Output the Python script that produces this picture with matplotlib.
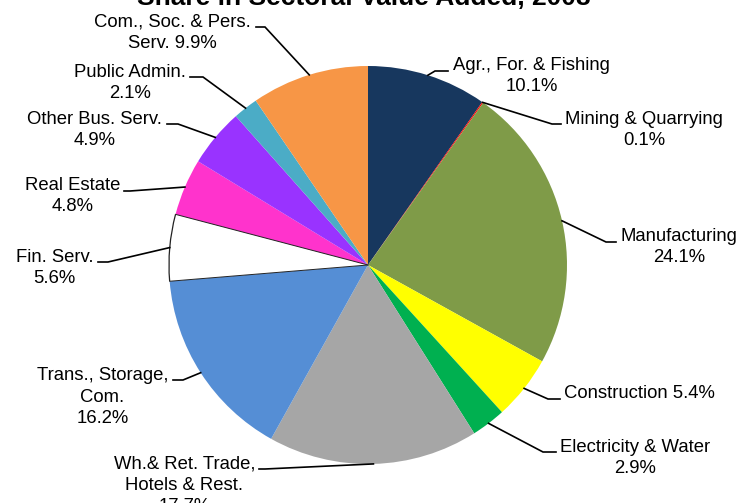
import matplotlib
matplotlib.use('Agg')
from matplotlib import pyplot as plt
from matplotlib.patches import Arc
import numpy as np

plt.rcParams['font.family'] = ['Liberation Sans', 'DejaVu Sans']

sectors = ['Agr., For. & Fishing', 'Mining & Quarrying', 'Manufacturing',
           'Construction', 'Electricity & Water', 'Wh.& Ret. Trade,\nHotels & Rest.',
           'Trans., Storage,\nCom.', 'Fin. Serv.', 'Real Estate', 'Other Bus. Serv.',
           'Public Admin.', 'Com., Soc. & Pers.\nServ.']
shares = [10.1, 0.1, 24.1, 5.4, 2.9, 17.7, 16.2, 5.6, 4.8, 4.9, 2.1, 9.9]
colors = ['#17375E', '#FF0000', '#7F9B48', '#FFFF00', '#00B050', '#A6A6A6',
          '#558ED5', '#FFFFFF', '#FF33CC', '#9933FF', '#4BACC6', '#F79646']
# how the share joins the name: new line or same line
joiners = ['\n', '\n', '\n', ' ', '\n', '\n', '\n', '\n', '\n', '\n', '\n', ' ']

# label layout in pixels: elbow, end of leader, text x, text centre y, side
layout = [
    ((435, 71), (448, 71), 453, 76, 'left'),
    ((552, 124), (561, 124), 565, 130, 'left'),
    ((606, 242), (616, 242), 621, 247, 'left'),
    ((548, 399), (560, 399), 564, 393, 'left'),
    ((543, 452), (556, 452), 560, 458, 'left'),
    ((265, 469), (259, 469), 255, 485, 'right'),
    ((183, 380), (173, 380), 168, 397, 'right'),
    ((108, 262), (98, 262), 93, 268, 'right'),
    ((130, 191), (124, 191), 120, 196, 'right'),
    ((178, 124), (167, 124), 162, 130, 'right'),
    ((203, 77), (190, 77), 186, 83, 'right'),
    ((265, 27), (256, 27), 251, 33, 'right'),
]

W, H = 741, 503
cx, cy, r = 368, 265, 199


def px(x, y):
    return (x - cx) / r, (cy - y) / r


fig = plt.figure(figsize=(W / 100, H / 100), dpi=100)
ax = fig.add_axes([0, 0, 1, 1])
wedges, _ = ax.pie(shares, colors=colors, startangle=90, counterclock=False,
                   radius=1, wedgeprops=dict(linewidth=0))
ax.set_xlim(-cx / r, (W - cx) / r)
ax.set_ylim(-(H - cy) / r, cy / r)
ax.set_aspect('auto')
ax.axis('off')

# outline of the white wedge
fin = wedges[7]
ax.add_patch(Arc((0, 0), 2, 2, theta1=fin.theta1, theta2=fin.theta2,
                 color='#222222', lw=0.9))
for t in (fin.theta1, fin.theta2):
    ax.plot([0, np.cos(np.radians(t))], [0, np.sin(np.radians(t))],
            color='#222222', lw=0.7)

for w, name, val, j, (elbow, end, tx, ty, side) in zip(wedges, sectors, shares, joiners, layout):
    a = np.radians((w.theta1 + w.theta2) / 2)
    ex, ey = np.cos(a), np.sin(a)
    bx, by = px(*elbow)
    nx, ny = px(*end)
    ax.plot([ex, bx, nx], [ey, by, ny], color='black', lw=1.2,
            solid_joinstyle='miter')
    x, y = px(tx, ty)
    ax.text(x, y, f'{name}{j}{val}%', ha=side, va='center',
            multialignment='center', fontsize=13.3, linespacing=1.32)

fig.text(364 / W, 1 - 5 / H, 'Share in Sectoral Value Added, 2008',
         ha='center', va='baseline', fontsize=19, fontweight='bold')

fig.savefig('out.png', dpi=100)
